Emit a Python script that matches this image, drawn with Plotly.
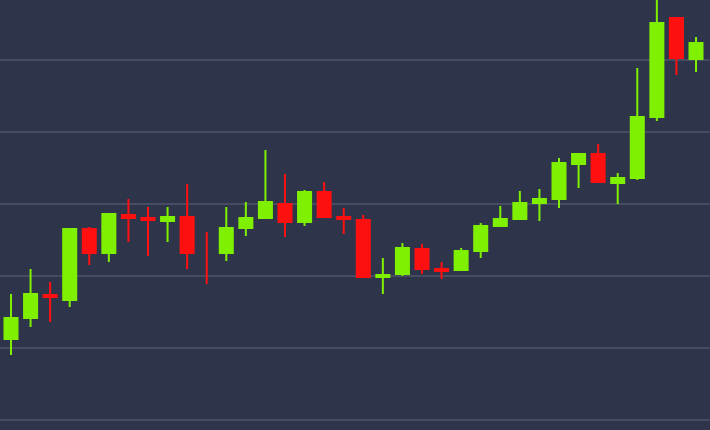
import plotly.graph_objects as go

# Candle index (time order)
idx = list(range(36))

open_ = [7125, 7417, 7736, 7667, 8653, 8319, 8847, 8806, 8764, 8819,
         None, 8319, 8667, 8806, 9000, 8750, 9167, 8819, 8778, 7986,
         8028, 8375, 8097, 8083, 8347, 8694, 8792, 9014, 9069, 9556,
         9694, 9292, 9361, 10208, 11583, 11014]
high = [7750, 8097, 7917, 8667, 8681, 8875, 9069, 8958, 8958, 9278,
        8611, 8958, 9028, 9750, 9417, 9194, 9306, 8944, 8847, 8250,
        8458, 8444, 8194, 8389, 8736, 8972, 9181, 9208, 9639, 9708,
        9833, 9431, 10889, 11875, 11597, 11319]
low = [6903, 7292, 7361, 7569, 8153, 8194, 8472, 8278, 8472, 8097,
       7889, 8208, 8556, 8792, 8542, 8694, 8806, 8583, 7980, 7750,
       8000, 8028, 7958, 8069, 8250, 8681, 8778, 8764, 8944, 9222,
       9292, 9000, 9333, 10153, 10792, 10833]
close = [7417, 7750, 7708, 8653, 8319, 8861, 8806, 8778, 8819, 8319,
         None, 8667, 8806, 9028, 8750, 9167, 8819, 8792, 7986, 8014,
         8389, 8097, 8069, 8347, 8694, 8792, 9014, 9069, 9569, 9694,
         9306, 9361, 10208, 11514, 11028, 11236]

GREEN = "#7ff000"
RED = "#ff1010"
BG = "#2e354a"
GRID = "#464d62"

# candles that have an open and close
full = [i for i in idx if open_[i] is not None]
# candle drawn as a wick only (no body)
wick_only = [i for i in idx if open_[i] is None]

fig = go.Figure()
fig.add_trace(go.Candlestick(
    x=full,
    open=[open_[i] for i in full], high=[high[i] for i in full],
    low=[low[i] for i in full], close=[close[i] for i in full],
    increasing=dict(line=dict(color=GREEN, width=2), fillcolor=GREEN),
    decreasing=dict(line=dict(color=RED, width=2), fillcolor=RED),
    whiskerwidth=0,
    hoverinfo="skip",
))
for i in wick_only:
    fig.add_trace(go.Scatter(
        x=[i, i], y=[low[i], high[i]], mode="lines",
        line=dict(color=RED, width=2), hoverinfo="skip",
    ))

fig.update_layout(
    width=710, height=430,
    margin=dict(l=0, r=0, t=0, b=0),
    paper_bgcolor=BG, plot_bgcolor=BG,
    showlegend=False,
    boxgap=0.05,
    xaxis=dict(range=[-0.562, 35.715], showgrid=False, zeroline=False,
               showticklabels=False, rangeslider=dict(visible=False),
               fixedrange=True),
    yaxis=dict(range=[5861, 11833], tick0=6000, dtick=1000,
               showgrid=True, gridcolor=GRID, gridwidth=1.5,
               zeroline=False, showticklabels=False, fixedrange=True),
)

fig.write_html(
    "out.html",
    config={"displayModeBar": False},
    post_script="document.body.style.margin='0';document.body.style.background='%s';" % BG,
)
